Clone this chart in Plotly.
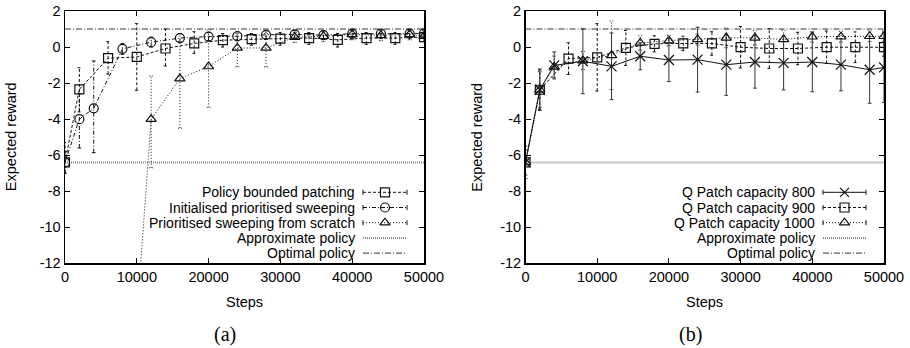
import plotly.graph_objects as go

# ---------------- data: panel (a) ----------------
pbp_x = [0, 2000, 6000, 10000, 14000, 18000, 22000, 26000, 30000, 34000, 38000, 42000, 46000, 50000]
pbp_y = [-6.4, -2.35, -0.62, -0.55, -0.08, 0.2, 0.38, 0.44, 0.47, 0.5, 0.4, 0.5, 0.5, 0.55]
pbp_lo = [-7.0, -3.6, -1.5, -2.4, -1.05, -0.35, 0.0, 0.1, 0.1, 0.15, 0.0, 0.15, 0.15, 0.3]
pbp_hi = [-5.3, -1.15, 0.3, 1.3, 1.0, 0.85, 0.75, 0.75, 0.8, 0.8, 0.75, 0.8, 0.8, 0.75]

ips_x = [0, 2000, 4000, 8000, 12000, 16000, 20000, 24000, 28000, 32000, 36000, 40000, 44000, 48000, 50000]
ips_y = [-6.4, -4.0, -3.4, -0.1, 0.27, 0.5, 0.58, 0.6, 0.68, 0.7, 0.66, 0.74, 0.74, 0.74, 0.76]
ips_lo = [-7.0, -5.6, -5.86, -0.4, 0.0, 0.25, 0.35, 0.35, 0.45, 0.45, 0.45, 0.5, 0.5, 0.5, 0.55]
ips_hi = [-5.8, -2.6, -0.77, 0.2, 0.55, 0.75, 0.8, 0.85, 0.9, 0.9, 0.9, 0.95, 0.95, 0.95, 0.95]

pss_x = [8000, 12000, 16000, 20000, 24000, 28000, 32000, 36000, 40000, 44000, 48000, 50000]
pss_y = [-26.0, -4.0, -1.75, -1.08, -0.05, -0.05, 0.55, 0.6, 0.7, 0.65, 0.7, 0.6]
pss_lo = [-30.0, -6.7, -4.5, -3.35, -1.1, -1.1, 0.25, 0.3, 0.4, 0.35, 0.4, 0.3]
pss_hi = [-22.0, -1.6, 0.3, 0.95, 0.75, 0.75, 0.8, 0.9, 0.95, 0.95, 0.95, 0.9]

# ---------------- data: panel (b) ----------------
q8_x = [0, 2000, 4000, 8000, 12000, 16000, 20000, 24000, 28000, 32000, 36000, 40000, 44000, 48000, 50000]
q8_y = [-6.4, -2.37, -1.02, -0.79, -1.07, -0.51, -0.72, -0.7, -0.98, -0.83, -0.88, -0.83, -0.98, -1.26, -1.13]
q8_e = [0.9, 1.15, 0.75, 1.8, 1.85, 0.75, 1.2, 1.8, 1.7, 1.45, 1.5, 1.65, 1.45, 1.86, 1.95]

q9_x = [0, 2000, 6000, 10000, 14000, 18000, 22000, 26000, 30000, 34000, 38000, 42000, 46000, 50000]
q9_y = [-6.4, -2.37, -0.64, -0.57, -0.05, 0.18, 0.2, 0.2, -0.01, -0.08, -0.08, -0.01, -0.01, -0.01]
q9_e = [0.7, 1.1, 0.88, 1.87, 0.97, 0.45, 0.4, 0.65, 1.15, 1.1, 0.9, 0.9, 0.85, 0.5]

q10_x = [0, 2000, 4000, 8000, 12000, 16000, 20000, 24000, 28000, 32000, 36000, 40000, 44000, 48000, 50000]
q10_y = [-6.4, -2.37, -1.1, -0.75, -0.46, 0.23, 0.36, 0.42, 0.51, 0.51, 0.42, 0.57, 0.57, 0.6, 0.6]
q10_e = [0.7, 1.0, 0.6, 0.5, 1.9, 0.4, 0.3, 0.3, 0.55, 0.4, 0.5, 0.3, 0.3, 0.3, 0.3]

optimal_value = 1.0
approx_value = -6.4

x_range = [0, 50000]
y_range = [-12, 2]
x_ticks = [0, 10000, 20000, 30000, 40000, 50000]
x_tick_labels = ["0", "10000", "20000", "30000", "40000", "50000"]
y_ticks = [2, 0, -2, -4, -6, -8, -10, -12]
y_tick_labels = ["2", "0", "-2", "-4", "-6", "-8", "-10", "-12"]

legend_a = ["Policy bounded patching", "Initialised prioritised sweeping",
            "Prioritised sweeping from scratch", "Approximate policy", "Optimal policy"]
legend_b = ["Q Patch capacity 800", "Q Patch capacity 900", "Q Patch capacity 1000",
            "Approximate policy", "Optimal policy"]

# ---------------- styles ----------------
W, H = 910, 348
FONT = "Liberation Sans, Arial, sans-serif"
FS = 14.5
INK = "#111111"
GRAY = "#8a8a8a"
DASH = "3px,2px"
DASHDOT = "4px,2px,1px,2px"
DOT = "1px,2px"
OPTDASH = "6px,2px,1px,2px"
APPDASH = "1px,1px"

# positions below are in page pixels
frame_a = (65, 424)
frame_b = (525.5, 884)
frame_y = (11, 263.3)


def px(x):
    return x / W


def py(y):
    return 1 - y / H


fig = go.Figure()


def err_trace(x, lo, hi, dash, xa, ya, color=INK, cap=260):
    xs, ys = [], []
    for xi, l, h in zip(x, lo, hi):
        xs += [xi, xi, None, xi - cap, xi + cap, None, xi - cap, xi + cap, None]
        ys += [l, h, None, l, l, None, h, h, None]
    fig.add_trace(go.Scatter(x=xs, y=ys, mode="lines", xaxis=xa, yaxis=ya,
                             line=dict(color=color, width=1, dash=dash),
                             hoverinfo="skip", showlegend=False))


def series(x, y, symbol, dash, xa, ya, name, size=9):
    fig.add_trace(go.Scatter(x=x, y=y, mode="lines+markers", xaxis=xa, yaxis=ya, name=name,
                             line=dict(color=INK, width=1, dash=dash),
                             marker=dict(symbol=symbol, size=size, color=INK,
                                         line=dict(color=INK, width=1.2)),
                             showlegend=False, cliponaxis=True))


def hline(val, dash, color, width, xa, ya, name):
    fig.add_trace(go.Scatter(x=x_range, y=[val, val], mode="lines", xaxis=xa, yaxis=ya, name=name,
                             line=dict(color=color, width=width, dash=dash), showlegend=False))


# panel (a)
hline(optimal_value, OPTDASH, "#333333", 1, "x", "y", legend_a[4])
hline(approx_value, APPDASH, GRAY, 2, "x", "y", legend_a[3])
err_trace(pss_x, pss_lo, pss_hi, DOT, "x", "y")
err_trace(ips_x, ips_lo, ips_hi, DASHDOT, "x", "y")
err_trace(pbp_x, pbp_lo, pbp_hi, DASH, "x", "y")
series(pss_x, pss_y, "triangle-up-open", DOT, "x", "y", legend_a[2])
series(ips_x, ips_y, "circle-open", DASHDOT, "x", "y", legend_a[1])
series(pbp_x, pbp_y, "square-open", DASH, "x", "y", legend_a[0])

# panel (b)
hline(optimal_value, OPTDASH, "#333333", 1, "x2", "y2", legend_b[4])
hline(approx_value, APPDASH, GRAY, 2, "x2", "y2", legend_b[3])
err_trace(q10_x, [a - b for a, b in zip(q10_y, q10_e)], [a + b for a, b in zip(q10_y, q10_e)], DOT, "x2", "y2")
err_trace(q9_x, [a - b for a, b in zip(q9_y, q9_e)], [a + b for a, b in zip(q9_y, q9_e)], DASH, "x2", "y2")
err_trace(q8_x, [a - b for a, b in zip(q8_y, q8_e)], [a + b for a, b in zip(q8_y, q8_e)], "solid", "x2", "y2",
          color="#333333")
series(q10_x, q10_y, "triangle-up-open", DOT, "x2", "y2", legend_b[2])
series(q9_x, q9_y, "square-open", DASH, "x2", "y2", legend_b[1])
series(q8_x, q8_y, "x-thin-open", "solid", "x2", "y2", legend_b[0], size=10)

# ---------------- hand-made gnuplot-style legends (pixel overlay axis) ----------------
leg_rows = [192.3, 207.5, 222.7, 237.9, 253.1]
leg_a_style = [("square-open", DASH, INK, 1, True), ("circle-open", DASHDOT, INK, 1, True),
               ("triangle-up-open", DOT, INK, 1, True), (None, APPDASH, GRAY, 2, False),
               (None, OPTDASH, "#333333", 1, False)]
leg_b_style = [("x-thin-open", "solid", INK, 1, True), ("square-open", DASH, INK, 1, True),
               ("triangle-up-open", DOT, INK, 1, True), (None, APPDASH, GRAY, 2, False),
               (None, OPTDASH, "#333333", 1, False)]
annotations = []
for labels, styles, text_right, s0, s1 in [(legend_a, leg_a_style, 356, 363, 407),
                                            (legend_b, leg_b_style, 816, 823, 866)]:
    for lab, (sym, dash, col, wid, caps), yr in zip(labels, styles, leg_rows):
        annotations.append(dict(text=lab, xref="paper", yref="paper", x=px(text_right), y=py(yr),
                                xanchor="right", yanchor="middle", showarrow=False, borderpad=0,
                                font=dict(family=FONT, size=14, color="black")))
        fig.add_trace(go.Scatter(x=[s0, s1], y=[yr, yr], mode="lines", xaxis="x3", yaxis="y3",
                                 line=dict(color=col, width=wid, dash=dash), hoverinfo="skip",
                                 showlegend=False))
        if caps:
            fig.add_trace(go.Scatter(x=[s0, s0, None, s1, s1], y=[yr - 2.5, yr + 2.5, None, yr - 2.5, yr + 2.5],
                                     mode="lines", xaxis="x3", yaxis="y3",
                                     line=dict(color=col, width=1), hoverinfo="skip", showlegend=False))
        if sym:
            fig.add_trace(go.Scatter(x=[(s0 + s1) / 2], y=[yr], mode="markers", xaxis="x3", yaxis="y3",
                                     marker=dict(symbol=sym, size=9, color=INK, line=dict(color=INK, width=1.2)),
                                     hoverinfo="skip", showlegend=False))

# titles
for cx in [(frame_a[0] + frame_a[1]) / 2, (frame_b[0] + frame_b[1]) / 2]:
    annotations.append(dict(text="Steps", xref="paper", yref="paper", x=px(cx), y=py(302),
                            xanchor="center", yanchor="middle", showarrow=False,
                            font=dict(family=FONT, size=FS, color="black")))
for cx in [11, 477.5]:
    annotations.append(dict(text="Expected reward", xref="paper", yref="paper", x=px(cx),
                            y=py((frame_y[0] + frame_y[1]) / 2), textangle=-90,
                            xanchor="center", yanchor="middle", showarrow=False,
                            font=dict(family=FONT, size=FS, color="black")))
for lab, cx in [("(a)", 225), ("(b)", 690)]:
    annotations.append(dict(text=lab, xref="paper", yref="paper", x=px(cx), y=py(334),
                            xanchor="center", yanchor="middle", showarrow=False,
                            font=dict(family="Liberation Serif, Times New Roman, serif", size=20, color="black")))

axis_common = dict(showgrid=False, zeroline=False, showline=True, linecolor="black", linewidth=1.5,
                   mirror="allticks", ticks="inside", ticklen=5, tickwidth=1, tickcolor="black",
                   automargin=False, tickfont=dict(family=FONT, size=FS, color="black"))

fig.update_layout(
    template="none",
    width=W, height=H, margin=dict(l=0, r=0, t=0, b=0, pad=0, autoexpand=False),
    paper_bgcolor="white", plot_bgcolor="rgba(0,0,0,0)", showlegend=False,
    font=dict(family=FONT, size=FS, color="black"),
    hovermode=False,
    xaxis=dict(domain=[px(frame_a[0]), px(frame_a[1])], range=x_range, tickvals=x_ticks,
               ticktext=x_tick_labels, anchor="y", **axis_common),
    yaxis=dict(domain=[py(frame_y[1]), py(frame_y[0])], range=y_range, tickvals=y_ticks,
               ticktext=y_tick_labels, anchor="x", **axis_common),
    xaxis2=dict(domain=[px(frame_b[0]), px(frame_b[1])], range=x_range, tickvals=x_ticks,
                ticktext=x_tick_labels, anchor="y2", **axis_common),
    yaxis2=dict(domain=[py(frame_y[1]), py(frame_y[0])], range=y_range, tickvals=y_ticks,
                ticktext=y_tick_labels, anchor="x2", **axis_common),
    xaxis3=dict(domain=[0, 1], range=[0, W], visible=False, anchor="y3",
                fixedrange=True, automargin=False),
    yaxis3=dict(domain=[0, 1], range=[H, 0], visible=False, anchor="x3",
                fixedrange=True, automargin=False),
    annotations=annotations,
)

# remove the browser's default 8px body margin so the figure sits at the page origin
fig.write_html("out.html", config={"displayModeBar": False, "staticPlot": True},
               post_script="document.body.style.margin='0px';document.body.style.overflow='hidden';")
